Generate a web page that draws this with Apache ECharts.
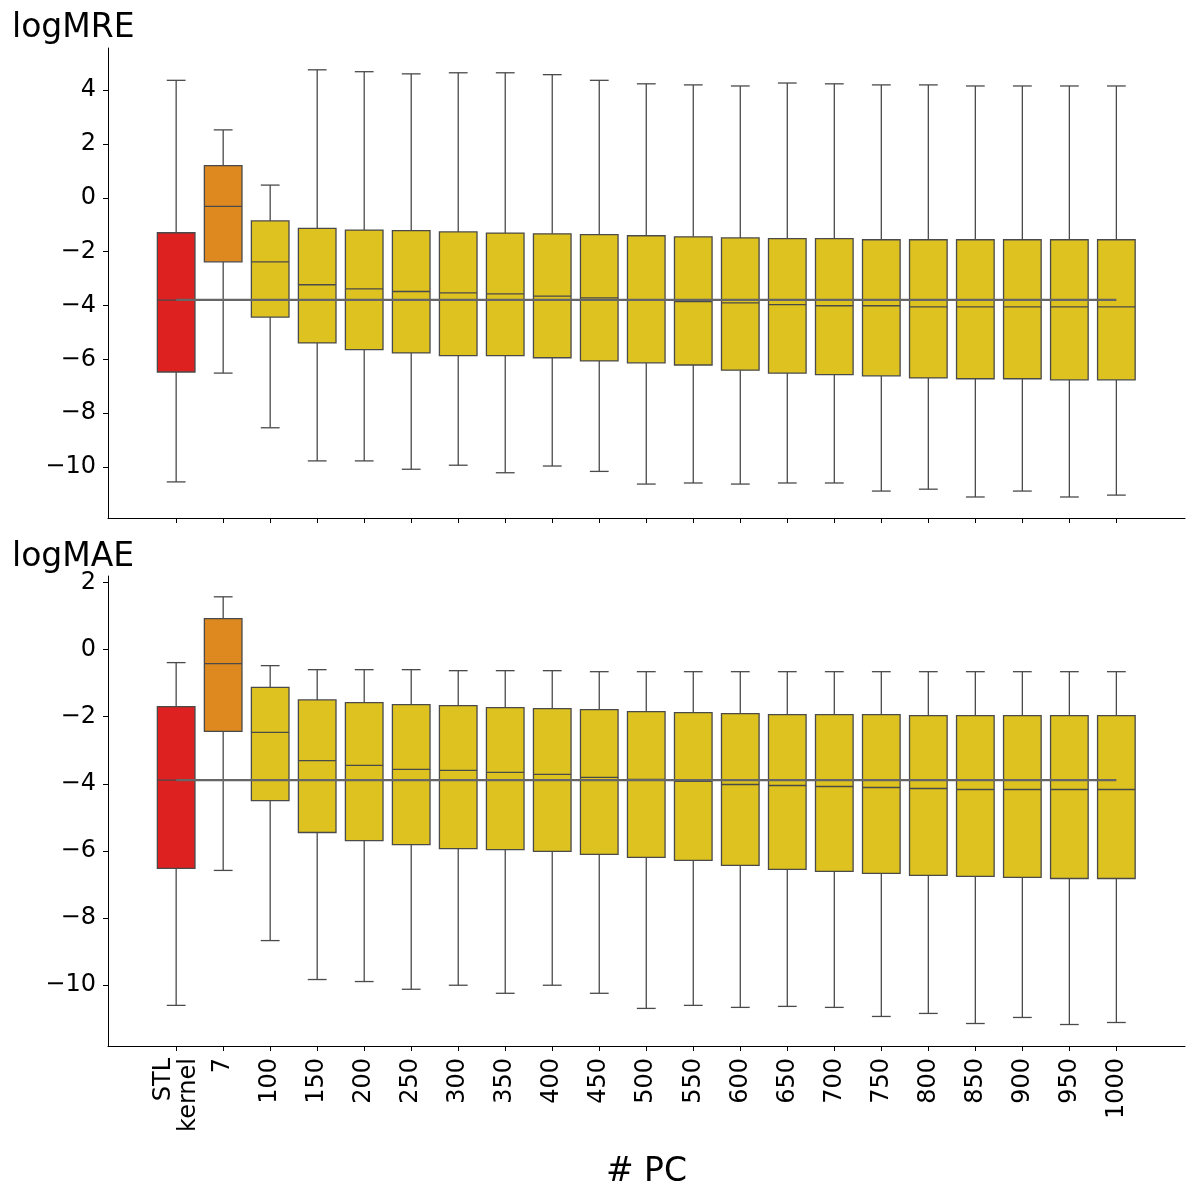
<!DOCTYPE html>
<html>
<head>
<meta charset="utf-8">
<script src="https://cdn.jsdelivr.net/npm/echarts@6/dist/echarts.min.js"></script>
<style>
  html, body { margin: 0; padding: 0; background: #fff; }
  #chart { width: 1194px; height: 1190px; }
</style>
</head>
<body>
<div id="chart"></div>
<script>
// categories on the x axis
var categories = ['STL\nkernel', '7', '100', '150', '200', '250', '300', '350', '400', '450',
    '500', '550', '600', '650', '700', '750', '800', '850', '900', '950', '1000'];

// logMRE boxes
var mreLow  = [-10.55, -6.51, -8.54, -9.77, -9.77, -10.08, -9.93, -10.21, -9.96, -10.16,
    -10.63, -10.59, -10.63, -10.59, -10.59, -10.89, -10.82, -11.11, -10.89, -11.11, -11.04];
var mreQ1   = [-6.47, -2.38, -4.43, -5.39, -5.64, -5.76, -5.86, -5.86, -5.94, -6.06,
    -6.13, -6.21, -6.40, -6.51, -6.57, -6.61, -6.69, -6.72, -6.72, -6.76, -6.76];
var mreMed  = [-3.80, -0.32, -2.38, -3.23, -3.38, -3.48, -3.53, -3.57, -3.65, -3.72,
    -3.79, -3.86, -3.90, -3.97, -4.01, -4.01, -4.05, -4.05, -4.05, -4.05, -4.05];
var mreQ3   = [-1.30, 1.19, -0.86, -1.14, -1.20, -1.22, -1.27, -1.31, -1.34, -1.37,
    -1.41, -1.45, -1.49, -1.52, -1.52, -1.56, -1.56, -1.56, -1.56, -1.56, -1.56];
var mreHigh = [4.36, 2.52, 0.47, 4.75, 4.68, 4.60, 4.64, 4.64, 4.57, 4.36,
    4.23, 4.19, 4.15, 4.26, 4.23, 4.19, 4.19, 4.15, 4.15, 4.15, 4.15];
var mreRef = -3.79;

// logMAE boxes
var maeLow  = [-10.60, -6.58, -8.67, -9.83, -9.89, -10.12, -10.00, -10.24, -10.00, -10.24,
    -10.69, -10.60, -10.66, -10.63, -10.66, -10.93, -10.84, -11.14, -10.96, -11.17, -11.11];
var maeQ1   = [-6.52, -2.44, -4.50, -5.45, -5.69, -5.81, -5.93, -5.96, -6.01, -6.10,
    -6.19, -6.28, -6.43, -6.55, -6.61, -6.67, -6.73, -6.76, -6.79, -6.82, -6.82];
var maeMed  = [-3.89, -0.42, -2.47, -3.31, -3.45, -3.57, -3.60, -3.66, -3.72, -3.81,
    -3.87, -3.93, -4.02, -4.05, -4.08, -4.11, -4.14, -4.17, -4.17, -4.17, -4.17];
var maeQ3   = [-1.70, 0.92, -1.13, -1.50, -1.58, -1.64, -1.67, -1.73, -1.76, -1.79,
    -1.85, -1.88, -1.91, -1.94, -1.94, -1.94, -1.97, -1.97, -1.97, -1.97, -1.97];
var maeHigh = [-0.39, 1.57, -0.48, -0.60, -0.60, -0.60, -0.63, -0.63, -0.63, -0.66,
    -0.66, -0.66, -0.66, -0.66, -0.66, -0.66, -0.66, -0.66, -0.66, -0.66, -0.66];
var maeRef = -3.89;

// tick positions
var mreTicks = [-10, -8, -6, -4, -2, 0, 2, 4];
var maeTicks = [-10, -8, -6, -4, -2, 0, 2];
var xTicks = categories.map(function (c, i) { return i; });

var EDGE = '#4a4a4a';
var FONT = 'DejaVu Sans';

function boxColor(i) {
    if (i === 0) return '#dd2020';
    if (i === 1) return '#de8820';
    return '#dec21f';
}

function buildData(low, q1, med, q3, high) {
    return categories.map(function (c, i) {
        return [i, low[i], q1[i], med[i], q3[i], high[i]];
    });
}

// draw one box + whiskers from the axis coordinates
function renderBox(params, api) {
    var x = api.value(0);
    var lo = api.coord([x, api.value(1)]);
    var b1 = api.coord([x, api.value(2)]);
    var md = api.coord([x, api.value(3)]);
    var b3 = api.coord([x, api.value(4)]);
    var hi = api.coord([x, api.value(5)]);
    var unit = api.size([1, 0])[0];
    var bw = unit * 0.8, cw = unit * 0.4;
    var cx = lo[0];
    var ls = { stroke: EDGE, lineWidth: 1.3 };
    return {
        type: 'group',
        children: [
            { type: 'line', shape: { x1: cx, y1: b1[1], x2: cx, y2: lo[1] }, style: ls },
            { type: 'line', shape: { x1: cx, y1: b3[1], x2: cx, y2: hi[1] }, style: ls },
            { type: 'line', shape: { x1: cx - cw / 2, y1: lo[1], x2: cx + cw / 2, y2: lo[1] }, style: ls },
            { type: 'line', shape: { x1: cx - cw / 2, y1: hi[1], x2: cx + cw / 2, y2: hi[1] }, style: ls },
            { type: 'rect', shape: { x: cx - bw / 2, y: b3[1], width: bw, height: b1[1] - b3[1] },
              style: { fill: boxColor(params.dataIndex), stroke: EDGE, lineWidth: 1.3 } },
            { type: 'line', shape: { x1: cx - bw / 2, y1: md[1], x2: cx + bw / 2, y2: md[1] }, style: ls }
        ]
    };
}

function fmtNum(v) {
    return String(v).replace('-', '\u2212');
}

function xAxisOpt(idx, showLabels) {
    return {
        type: 'value',
        gridIndex: idx,
        min: -1.45,
        max: 21.46,
        splitLine: { show: false },
        axisLine: { onZero: false, lineStyle: { color: '#000', width: 1 } },
        axisTick: { show: true, customValues: xTicks, length: 5, lineStyle: { color: '#000' } },
        axisLabel: {
            show: showLabels,
            customValues: xTicks,
            rotate: 90,
            margin: 12,
            fontSize: 24,
            fontFamily: FONT,
            color: '#000',
            lineHeight: 25,
            formatter: function (v) { return categories[Math.round(v)]; }
        },
        name: showLabels ? '# PC' : '',
        nameLocation: 'middle',
        nameGap: 110,
        nameTextStyle: { fontSize: 33, fontFamily: FONT, color: '#000' }
    };
}

function yAxisOpt(idx, lo, hi, ticks) {
    return {
        type: 'value',
        gridIndex: idx,
        min: lo,
        max: hi,
        splitLine: { show: false },
        axisLine: { show: true, onZero: false, lineStyle: { color: '#000', width: 1 } },
        axisTick: { show: true, customValues: ticks, length: 5, lineStyle: { color: '#000' } },
        axisLabel: {
            customValues: ticks,
            margin: 12,
            fontSize: 24,
            fontFamily: FONT,
            color: '#000',
            formatter: fmtNum
        }
    };
}

var chart = echarts.init(document.getElementById('chart'), null, { renderer: 'canvas' });

var option = {
    animation: false,
    backgroundColor: '#fff',
    title: [
        { text: 'logMRE', left: 7, top: 7, textStyle: { fontSize: 33, fontWeight: 'normal', fontFamily: FONT, color: '#000' } },
        { text: 'logMAE', left: 7, top: 536, textStyle: { fontSize: 33, fontWeight: 'normal', fontFamily: FONT, color: '#000' } }
    ],
    grid: [
        { left: 108, right: 9, top: 48, height: 470 },
        { left: 108, right: 9, top: 576, height: 470 }
    ],
    xAxis: [xAxisOpt(0, false), xAxisOpt(1, true)],
    yAxis: [
        yAxisOpt(0, -11.89, 5.56, mreTicks),
        yAxisOpt(1, -11.81, 2.19, maeTicks)
    ],
    series: [
        {
            type: 'custom', xAxisIndex: 0, yAxisIndex: 0,
            renderItem: renderBox,
            encode: { x: 0, y: [1, 2, 3, 4, 5] },
            data: buildData(mreLow, mreQ1, mreMed, mreQ3, mreHigh)
        },
        {
            type: 'line', xAxisIndex: 0, yAxisIndex: 0, z: 5,
            symbol: 'none',
            lineStyle: { color: '#666', width: 2.2 },
            data: [[0, mreRef], [categories.length - 1, mreRef]]
        },
        {
            type: 'custom', xAxisIndex: 1, yAxisIndex: 1,
            renderItem: renderBox,
            encode: { x: 0, y: [1, 2, 3, 4, 5] },
            data: buildData(maeLow, maeQ1, maeMed, maeQ3, maeHigh)
        },
        {
            type: 'line', xAxisIndex: 1, yAxisIndex: 1, z: 5,
            symbol: 'none',
            lineStyle: { color: '#666', width: 2.2 },
            data: [[0, maeRef], [categories.length - 1, maeRef]]
        }
    ]
};

chart.setOption(option);
</script>
</body>
</html>
